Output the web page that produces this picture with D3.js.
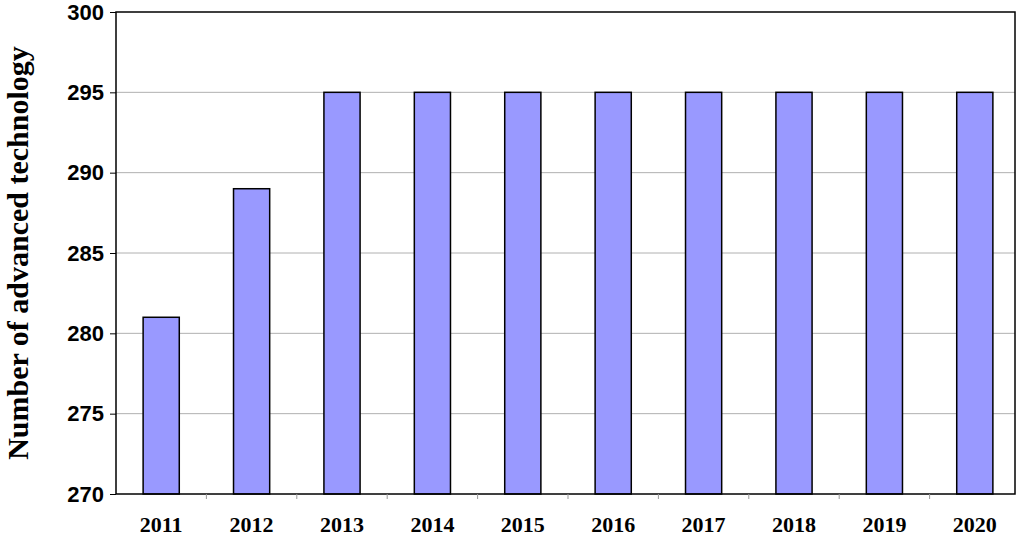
<!DOCTYPE html>
<html><head><meta charset="utf-8">
<script src="https://cdn.jsdelivr.net/npm/d3@7"></script>
<style>body{margin:0;background:#fff}</style>
</head><body><div id="chart"></div>
<script>
const years = ["2011","2012","2013","2014","2015","2016","2017","2018","2019","2020"];
const counts = [281, 289, 295, 295, 295, 295, 295, 295, 295, 295];
const yTicks = [270, 275, 280, 285, 290, 295, 300];

const W = 1024, H = 537;
const m = {left: 116, right: 9, top: 12, bottom: 43};
const svg = d3.select("#chart").append("svg").attr("width", W).attr("height", H)
    .style("font-family", "'Liberation Serif', 'Times New Roman', serif");

const x = d3.scaleBand().domain(years).range([m.left, 1020]).paddingInner(0.6).paddingOuter(0.3);
const y = d3.scaleLinear().domain([270, 300]).range([H - m.bottom, m.top]);

//gridlines
svg.append("g").selectAll("line").data(yTicks.slice(1, -1)).join("line")
    .attr("x1", m.left).attr("x2", W - m.right)
    .attr("y1", d => y(d)).attr("y2", d => y(d))
    .attr("stroke", "#b0b0b0").attr("stroke-width", 1);

//bars
svg.append("g").selectAll("rect").data(counts).join("rect")
    .attr("x", (d, i) => x(years[i]))
    .attr("y", d => y(d))
    .attr("width", x.bandwidth())
    .attr("height", d => y(270) - y(d))
    .attr("fill", "#9999ff").attr("stroke", "#000").attr("stroke-width", 1.5);

//frame
svg.append("rect").attr("x", m.left).attr("y", m.top)
    .attr("width", W - m.right - m.left).attr("height", H - m.bottom - m.top)
    .attr("fill", "none").attr("stroke", "#000").attr("stroke-width", 1.5);

//category boundary ticks
svg.append("g").selectAll("line").data(d3.range(1, years.length)).join("line")
    .attr("x1", i => x(years[i]) - x.step() * 0.3)
    .attr("x2", i => x(years[i]) - x.step() * 0.3)
    .attr("y1", y(270)).attr("y2", y(270) + 5)
    .attr("stroke", "#999");

//y axis
const ya = svg.append("g").attr("transform", `translate(${m.left},0)`)
    .call(d3.axisLeft(y).tickValues(yTicks).tickSize(6).tickPadding(6));
ya.select(".domain").remove();
ya.selectAll("text").style("font-size", "22px").style("font-weight", "bold").attr("fill", "#000");

//x labels
svg.append("g").selectAll("text").data(years).join("text")
    .attr("x", d => x(d) + x.bandwidth() / 2).attr("y", y(270) + 38)
    .attr("text-anchor", "middle").style("font-size", "22px").style("font-weight", "bold")
    .text(d => d);

svg.append("text")
    .attr("transform", `translate(28,${(m.top + H - m.bottom) / 2}) rotate(-90)`)
    .attr("text-anchor", "middle").style("font-size", "30px").style("font-weight", "bold")
    .text("Number of advanced technology");
</script></body></html>
